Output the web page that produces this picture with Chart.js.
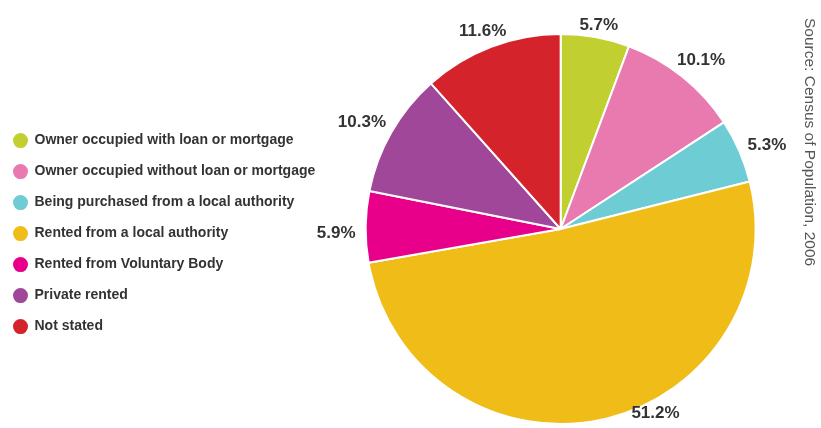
<!DOCTYPE html>
<html>
<head>
<meta charset="utf-8">
<script src="https://cdn.jsdelivr.net/npm/chart.js@4"></script>
<style>
  html, body { margin: 0; padding: 0; background: #ffffff; }
  #wrap { width: 821px; height: 428px; position: relative; }
</style>
</head>
<body>
<div id="wrap"><canvas id="c"></canvas></div>
<script>
const categories = [
  "Owner occupied with loan or mortgage",
  "Owner occupied without loan or mortgage",
  "Being purchased from a local authority",
  "Rented from a local authority",
  "Rented from Voluntary Body",
  "Private rented",
  "Not stated"
];
const shares = [5.7, 10.1, 5.3, 51.2, 5.9, 10.3, 11.6];
const sliceColors = ["#c1cf30", "#e87ab0", "#6ecdd4", "#f0bd18", "#e8008a", "#a0479a", "#d4232b"];
const sourceNote = "Source: Census of Population, 2006";

const labelPlugin = {
  id: 'sliceLabels',
  afterDatasetsDraw(chart) {
    const ctx = chart.ctx;
    const meta = chart.getDatasetMeta(0);
    ctx.save();
    ctx.font = 'bold 17px "Liberation Sans", Arial, sans-serif';
    ctx.fillStyle = '#333333';
    ctx.textAlign = 'center';
    ctx.textBaseline = 'middle';
    const limit = chart.height - 15;
    meta.data.forEach((arc, i) => {
      const p = arc.getProps(['x', 'y', 'startAngle', 'endAngle', 'outerRadius'], true);
      const mid = (p.startAngle + p.endAngle) / 2;
      const txt = shares[i].toFixed(1) + '%';
      const w = ctx.measureText(txt).width;
      const c = Math.cos(mid), s = Math.sin(mid);
      const d = p.outerRadius + 10 + Math.abs(c) * w / 2 + Math.abs(s) * 6;
      let lx = p.x + c * d, ly = p.y + s * d + 7;
      if (ly > limit) {
        const r2 = p.outerRadius + 12;
        const dy = limit - p.y;
        ly = limit;
        lx = p.x + Math.sign(c) * Math.sqrt(Math.max(r2 * r2 - dy * dy, 0));
      }
      ctx.fillText(txt, lx, ly);
    });
    ctx.restore();
  }
};

const sourcePlugin = {
  id: 'sourceNote',
  afterDraw(chart) {
    const ctx = chart.ctx;
    ctx.save();
    ctx.translate(809, 18);
    ctx.rotate(Math.PI / 2);
    ctx.font = '15.5px "Liberation Sans", Arial, sans-serif';
    ctx.fillStyle = '#555555';
    ctx.textAlign = 'left';
    ctx.textBaseline = 'middle';
    ctx.fillText(sourceNote, 0, 0);
    ctx.restore();
  }
};

new Chart(document.getElementById('c'), {
  type: 'pie',
  data: {
    labels: categories,
    datasets: [{
      data: shares,
      backgroundColor: sliceColors,
      borderColor: '#ffffff',
      borderWidth: 2
    }]
  },
  options: {
    responsive: true,
    maintainAspectRatio: false,
    animation: false,
    layout: { padding: { top: 33, bottom: 3, left: -3.5, right: 25 } },
    plugins: {
      tooltip: { enabled: false },
      legend: {
        position: 'left',
        align: 'center',
        title: { display: true, text: '', font: { size: 1 }, padding: 4 },
        labels: {
          usePointStyle: true,
          pointStyle: 'circle',
          boxWidth: 14,
          boxHeight: 12,
          padding: 17,
          color: '#333333',
          font: { family: '"Liberation Sans", Arial, sans-serif', size: 14, weight: 'bold' }
        }
      }
    }
  },
  plugins: [labelPlugin, sourcePlugin]
});
</script>
</body>
</html>
